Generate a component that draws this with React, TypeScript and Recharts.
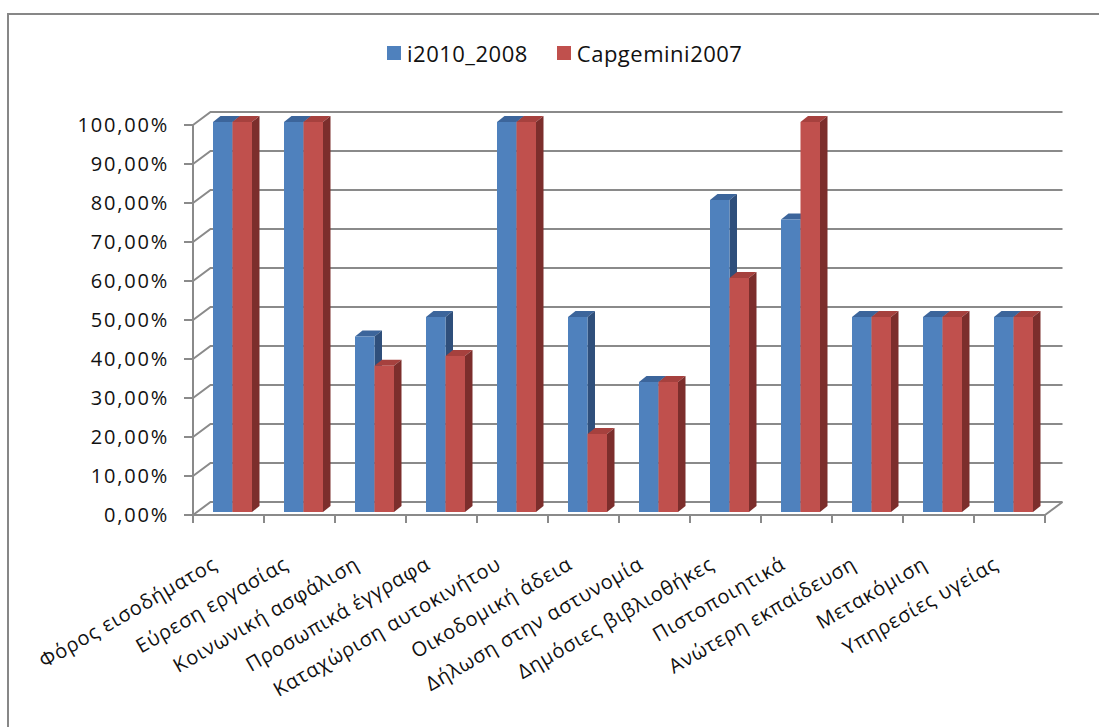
import React from 'react';
import { BarChart, Bar, XAxis, YAxis, CartesianGrid, Legend } from 'recharts';

// Services and the share of each one available online, per survey
const categories = [
  'Φόρος εισοδήματος',
  'Εύρεση εργασίας',
  'Κοινωνική ασφάλιση',
  'Προσωπικά έγγραφα',
  'Καταχώριση αυτοκινήτου',
  'Οικοδομική άδεια',
  'Δήλωση στην αστυνομία',
  'Δημόσιες βιβλιοθήκες',
  'Πιστοποιητικά',
  'Ανώτερη εκπαίδευση',
  'Μετακόμιση',
  'Υπηρεσίες υγείας',
];
const seriesNames = ['i2010_2008', 'Capgemini2007'];
const i2010_2008 = [1, 1, 0.45, 0.5, 1, 0.5, 0.3333, 0.8, 0.75, 0.5, 0.5, 0.5];
const capgemini2007 = [1, 1, 0.375, 0.4, 1, 0.2, 0.3333, 0.6, 1, 0.5, 0.5, 0.5];
const yTicks = [0, 0.1, 0.2, 0.3, 0.4, 0.5, 0.6, 0.7, 0.8, 0.9, 1];

const data = categories.map((name, i) => ({
  name,
  [seriesNames[0]]: i2010_2008[i],
  [seriesNames[1]]: capgemini2007[i],
}));

const FONT = '"Open Sans", "Noto Sans", sans-serif';
const GRID = '#8a8a8a';
// depth of the back wall, relative to the front axis plane
const DX = 17.5;
const DY = -13;
// bars sit a little behind the front plane and have their own depth
const FX = 4;
const FY = -3;
const BDX = 7.5;
const BDY = -6;

const pct = (v: number) => `${(v * 100).toFixed(2).replace('.', ',')}%`;

const makeColumn = (front: string, top: string, side: string) => (props: any) => {
  const { x, y, width, height } = props;
  if (x == null || width == null || height == null) return null;
  const fx = x + FX;
  const fy = y + FY;
  const w = width;
  const h = height;
  return (
    <g>
      <polygon
        points={`${fx},${fy} ${fx + w},${fy} ${fx + w + BDX},${fy + BDY} ${fx + BDX},${fy + BDY}`}
        fill={top}
      />
      <polygon
        points={`${fx + w},${fy} ${fx + w + BDX},${fy + BDY} ${fx + w + BDX},${fy + h + BDY} ${fx + w},${fy + h}`}
        fill={side}
      />
      <rect x={fx} y={fy} width={w} height={h} fill={front} />
    </g>
  );
};

const blueColumn = makeColumn('#4F81BD', '#3C659B', '#2F4F7B');
const redColumn = makeColumn('#C0504D', '#A6413E', '#7C2E2C');

// back wall and left side wall lines for every value level
const wallLine = (props: any) => {
  const { x1, y1, x2, index } = props;
  return (
    <polyline
      key={`wall-${index}`}
      points={`${x1},${y1} ${x1 + DX},${y1 + DY} ${x2 + DX},${y1 + DY}`}
      fill="none"
      stroke={GRID}
      strokeWidth={2}
    />
  );
};

const CategoryTick = (props: any) => {
  const { x, y, payload, index } = props;
  const half = payload && typeof payload.offset === 'number' && payload.offset > 0 ? payload.offset : 35.5;
  const left = x - half;
  const right = x + half;
  const isLast = index === categories.length - 1;
  const ax = x - 10;
  const ay = y + 53;
  return (
    <g>
      <line x1={left} y1={y} x2={left} y2={y + 8} stroke={GRID} strokeWidth={2} />
      {isLast && <line x1={right} y1={y} x2={right} y2={y + 8} stroke={GRID} strokeWidth={2} />}
      {isLast && <line x1={right} y1={y} x2={right + DX} y2={y + DY} stroke={GRID} strokeWidth={2} />}
      <text
        x={ax}
        y={ay}
        transform={`rotate(-30 ${ax} ${ay})`}
        textAnchor="end"
        fontFamily={FONT}
        fontSize={20}
        letterSpacing={0.8}
        fill="#111"
      >
        {payload.value}
      </text>
    </g>
  );
};

const LegendContent = (props: any) => {
  const items = [...(props.payload || [])].sort(
    (a: any, b: any) => seriesNames.indexOf(a.value) - seriesNames.indexOf(b.value)
  );
  return (
    <div
      style={{
        display: 'flex',
        alignItems: 'center',
        fontFamily: FONT,
        fontSize: 22,
        letterSpacing: 0.5,
        color: '#111',
      }}
    >
      {items.map((it: any, i: number) => (
        <div key={i} style={{ display: 'flex', alignItems: 'center', marginRight: 29 }}>
          <span style={{ width: 14, height: 14, background: it.color, display: 'inline-block', marginRight: 6 }} />
          <span>{it.value}</span>
        </div>
      ))}
    </div>
  );
};

export default function App() {
  return (
    <div style={{ position: 'absolute', left: 0, top: 0, width: 1099, height: 727, overflow: 'hidden', background: '#fff' }}>
      <div
        style={{
          position: 'absolute',
          left: 7,
          top: 13,
          width: 1200,
          height: 900,
          border: '2px solid #878787',
          boxSizing: 'border-box',
        }}
      />
      <div style={{ position: 'absolute', left: 0, top: 0 }}>
        <BarChart
          width={1099}
          height={727}
          data={data}
          margin={{ top: 125, right: 54, bottom: 0, left: 0 }}
          barGap={0}
        >
          <CartesianGrid vertical={false} horizontal={wallLine} />
          <XAxis
            dataKey="name"
            interval={0}
            height={212}
            tickSize={0}
            tickMargin={0}
            tickLine={false}
            axisLine={{ stroke: GRID, strokeWidth: 2 }}
            tick={<CategoryTick />}
          />
          <YAxis
            type="number"
            domain={[0, 1]}
            ticks={yTicks}
            width={193}
            tickFormatter={pct}
            tickSize={9}
            tickMargin={15}
            axisLine={{ stroke: GRID, strokeWidth: 2 }}
            tickLine={{ stroke: GRID, strokeWidth: 2 }}
            tick={{ fontFamily: FONT, fontSize: 20, fill: '#111', letterSpacing: 1.8 }}
          />
          <Legend
            layout="horizontal"
            verticalAlign="middle"
            align="center"
            wrapperStyle={{ top: 38, left: 387, width: 440 }}
            content={<LegendContent />}
          />
          <Bar
            dataKey={seriesNames[0]}
            name={seriesNames[0]}
            fill="#4F81BD"
            barSize={19.5}
            shape={blueColumn}
            isAnimationActive={false}
          />
          <Bar
            dataKey={seriesNames[1]}
            name={seriesNames[1]}
            fill="#C0504D"
            barSize={19.5}
            shape={redColumn}
            isAnimationActive={false}
          />
        </BarChart>
      </div>
    </div>
  );
}
